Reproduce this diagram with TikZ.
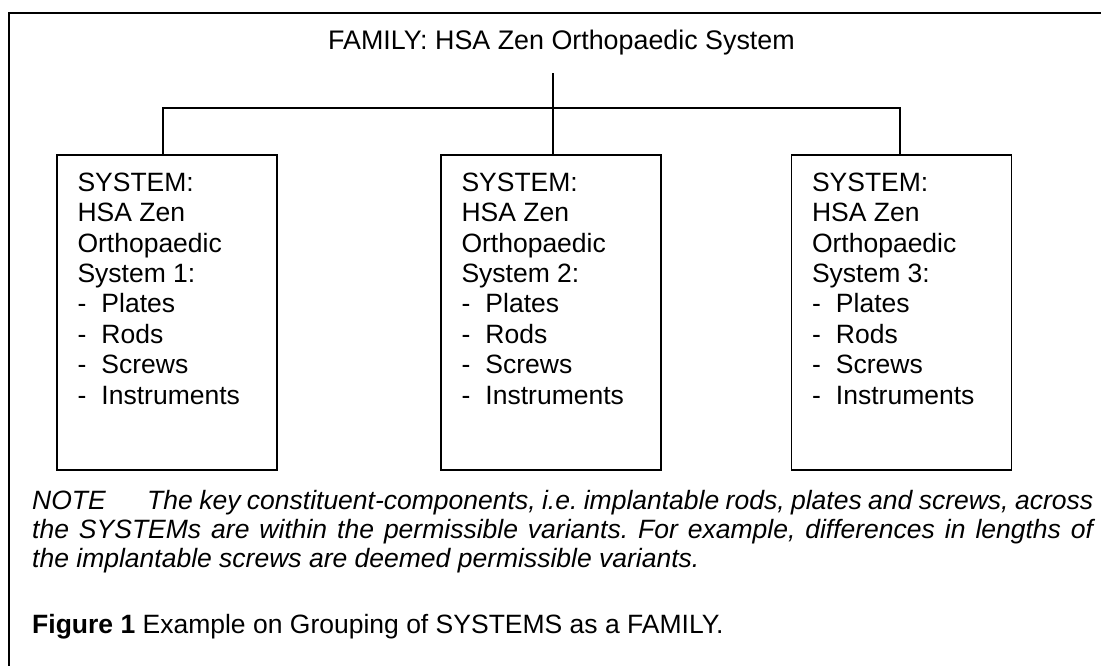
\documentclass[tikz,border=0pt]{standalone}
\usepackage{fontspec}
\setmainfont{Liberation Sans}
\usetikzlibrary{calc}

\tikzset{
  rule/.style={line width=1.4pt, draw=black},
  sysbox/.style={rule, rectangle, inner sep=0pt, minimum width=220pt, minimum height=315pt},
  systext/.style={anchor=base west, inner sep=0pt, font=\fontsize{26.5}{30.4}\selectfont},
  plain/.style={anchor=base west, inner sep=0pt, font=\fontsize{26.5}{29.5}\selectfont},
  heading/.style={anchor=base west, inner sep=0pt, font=\fontsize{26.85}{30}\selectfont},
}

\newcommand{\sysitems}[1]{%
  \renewcommand{\arraystretch}{1}%
  \begin{tabular}[t]{@{}l@{}}
    SYSTEM:\\
    HSA Zen\\
    Orthopaedic\\
    System #1:\\
    \makebox[24pt][l]{-}Plates\\
    \makebox[24pt][l]{-}Rods\\
    \makebox[24pt][l]{-}Screws\\
    \makebox[24pt][l]{-}Instruments
  \end{tabular}}

\begin{document}
\begin{tikzpicture}[x=1pt, y=-1pt]
  \useasboundingbox (0,0) rectangle (1101,665);

  % outer frame (left and top edges)
  \draw[rule] (9,670) -- (9,13) -- (1106,13);

  % family title
  \node[heading] (fam) at (328,49) {FAMILY: HSA Zen Orthopaedic System};

  % the three systems
  \node[sysbox] (s1) at (167,312.5) {};
  \node[sysbox] (s2) at (551,312.5) {};
  \node[sysbox] (s3) at (901.5,312.5) {};

  \node[systext] (t1) at ($(s1.north west)+(21,37)$) {\sysitems{1}};
  \node[systext] (t2) at ($(s2.north west)+(21,37)$) {\sysitems{2}};
  \node[systext] (t3) at ($(s3.north west)+(21,37)$) {\sysitems{3}};

  % tree connectors
  \coordinate (stem) at (553,73);
  \coordinate (bus1) at (163,108);
  \coordinate (bus3) at (900,108);
  \draw[rule] (s2.north -| stem) -- (stem);
  \draw[rule] (s1.north -| bus1) -- (bus1) -- (bus3) -- (s3.north -| bus3);

  % note paragraph
  \node[plain] (note) at (32,509) {\parbox[t]{1061pt}{%
    \fontsize{26.5}{29}\selectfont\itshape\frenchspacing
    \hyphenpenalty=10000 \exhyphenpenalty=10000 \emergencystretch=3em
    \parindent=0pt
    \makebox[115pt][l]{NOTE}The key constituent-components, i.e. implantable rods, plates and screws, across\linebreak
    the SYSTEMs are within the permissible variants. For example, differences in lengths of\linebreak
    the implantable screws are deemed permissible variants.}};

  % caption
  \node[plain] (cap) at (32,633) {\textbf{Figure 1} Example on Grouping of SYSTEMS as a FAMILY.};
\end{tikzpicture}
\end{document}
